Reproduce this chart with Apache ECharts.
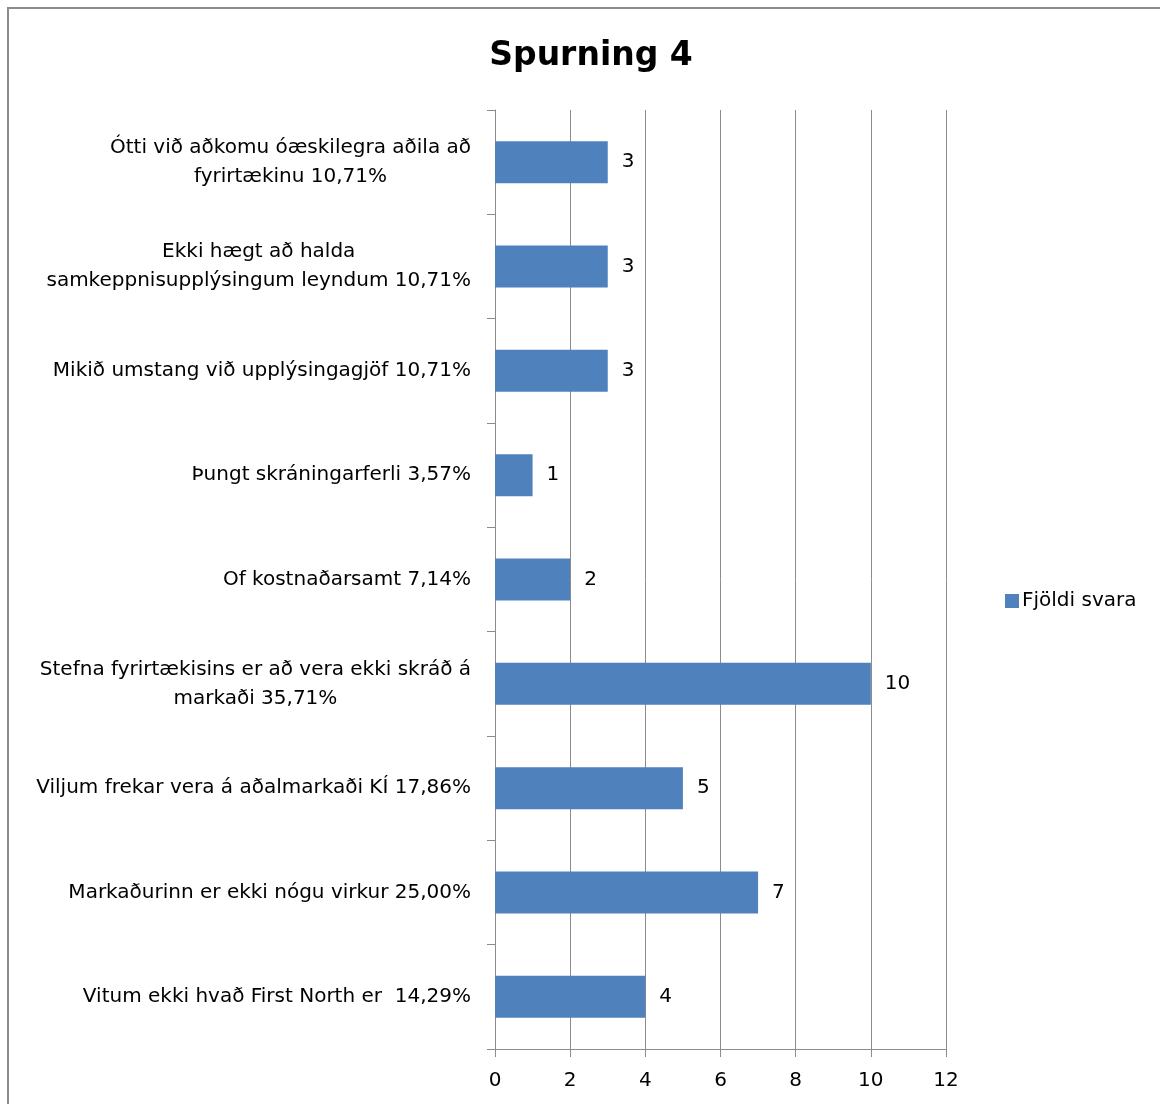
<!DOCTYPE html>
<html>
<head>
<meta charset="utf-8">
<script src="https://cdn.jsdelivr.net/npm/echarts@6/dist/echarts.min.js"></script>
<style>
html, body {
  margin: 0;
  padding: 0;
  background: #fff;
}
#frame {
  position: absolute;
  left: 7px;
  top: 7px;
  width: 1200px;
  height: 1200px;
  border-left: 2px solid #8c8c8c;
  border-top: 2px solid #8c8c8c;
}
#chart {
  position: absolute;
  left: 0;
  top: 0;
  width: 1160px;
  height: 1104px;
}
</style>
</head>
<body>
<div id="frame"></div>
<div id="chart"></div>
<script>
// flokkar, efst til neðst
var categories = [
  "Ótti við aðkomu óæskilegra aðila að\nfyrirtækinu 10,71%",
  "Ekki hægt að halda\nsamkeppnisupplýsingum leyndum 10,71%",
  "Mikið umstang við upplýsingagjöf 10,71%",
  "Þungt skráningarferli 3,57%",
  "Of kostnaðarsamt 7,14%",
  "Stefna fyrirtækisins er að vera ekki skráð á\nmarkaði 35,71%",
  "Viljum frekar vera á aðalmarkaði KÍ 17,86%",
  "Markaðurinn er ekki nógu virkur 25,00%",
  "Vitum ekki hvað First North er  14,29%"
];
var answers = [3, 3, 3, 1, 2, 10, 5, 7, 4];
var xTicks = [0, 2, 4, 6, 8, 10, 12];

var font = "'DejaVu Sans', sans-serif";
var chart = echarts.init(document.getElementById("chart"));

var option = {
  animation: false,
  title: {
    text: "Spurning 4",
    left: 586,
    textAlign: "center",
    top: 35,
    textStyle: {
      fontFamily: font,
      fontSize: 33,
      fontWeight: "bold",
      color: "#000"
    }
  },
  legend: {
    orient: "vertical",
    left: 1000,
    top: 586,
    icon: "rect",
    itemWidth: 14,
    itemHeight: 14,
    itemGap: 6,
    data: ["Fjöldi svara"],
    textStyle: {
      fontFamily: font,
      fontSize: 20,
      color: "#000",
      padding: [0, 0, 0, -2]
    }
  },
  grid: {
    left: 495,
    right: 214,
    top: 110,
    bottom: 55
  },
  xAxis: {
    type: "value",
    min: 0,
    max: 12,
    interval: 2,
    axisLine: { show: true, lineStyle: { color: "#8c8c8c", width: 1 } },
    axisTick: { show: true, length: 8, lineStyle: { color: "#8c8c8c" } },
    splitLine: { show: true, lineStyle: { color: "#8c8c8c", width: 1 } },
    axisLabel: {
      margin: 22,
      fontFamily: font,
      fontSize: 20,
      color: "#000",
      formatter: function (v) {
        return xTicks.indexOf(v) >= 0 ? String(v) : "";
      }
    }
  },
  yAxis: {
    type: "category",
    inverse: true,
    data: categories,
    axisLine: { show: true, lineStyle: { color: "#8c8c8c", width: 1 } },
    axisTick: { show: true, length: 8, lineStyle: { color: "#8c8c8c" } },
    axisLabel: {
      margin: 24,
      color: "#000",
      fontFamily: font,
      fontSize: 20,
      lineHeight: 29,
      formatter: function (v) {
        return v.split("\n").map(function (l) {
          return "{c|" + l + "}";
        }).join("\n");
      },
      rich: {
        c: {
          align: "center",
          fontFamily: font,
          fontSize: 20,
          lineHeight: 29,
          color: "#000"
        }
      }
    }
  },
  series: [
    {
      name: "Fjöldi svara",
      type: "bar",
      data: answers,
      barWidth: 42,
      itemStyle: { color: "#4f81bd" },
      label: {
        show: true,
        position: "right",
        distance: 14,
        fontFamily: font,
        fontSize: 20,
        color: "#000"
      }
    }
  ]
};

chart.setOption(option);
</script>
</body>
</html>
